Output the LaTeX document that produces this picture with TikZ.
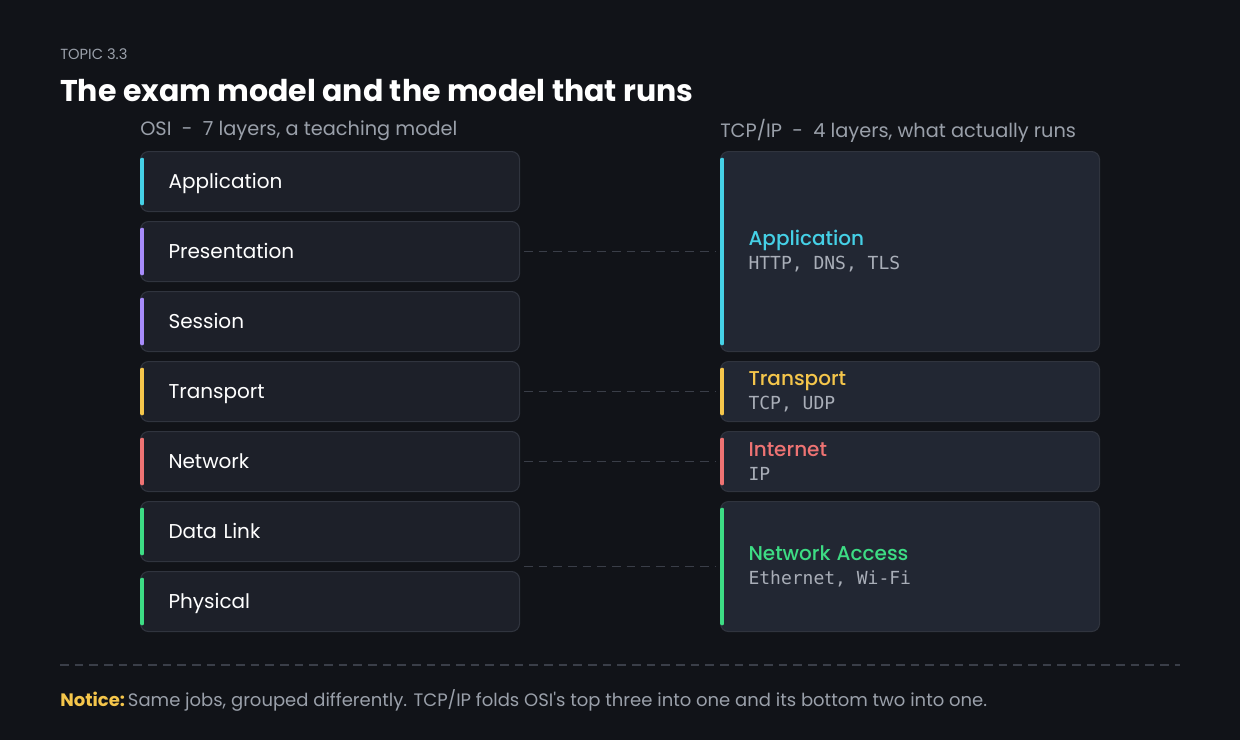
\documentclass[tikz,border=0pt]{standalone}
\usepackage{fontspec}
\setmainfont{Poppins}
\setmonofont{DejaVu Sans Mono}
\newfontfamily\popbold{Poppins}[UprightFont=* Bold]
\newfontfamily\popmed{Poppins}[UprightFont=* Medium]
\newfontfamily\popnote{Poppins}[Ligatures=TeXOff]
\newcommand{\msp}{\hspace{0.602em}}
\usepackage{xcolor}
\definecolor{bg}{HTML}{111318}
\definecolor{osi_fill}{HTML}{1D2029}
\definecolor{tcp_fill}{HTML}{222733}
\definecolor{edge}{HTML}{30343E}
\definecolor{muted}{HTML}{9AA0AA}
\definecolor{mono}{HTML}{A9AEB8}
\definecolor{dashc}{HTML}{3A3E48}
\definecolor{l_cyan}{HTML}{45D0E6}
\definecolor{l_purple}{HTML}{A78BFA}
\definecolor{l_yellow}{HTML}{F5C64B}
\definecolor{l_red}{HTML}{EE7373}
\definecolor{l_green}{HTML}{3DDC84}
\usetikzlibrary{positioning,calc}

\begin{document}
\begin{tikzpicture}[
        x=0.75pt, y=-0.75pt,
        layer/.style={rectangle,rounded corners=6pt,draw=edge,line width=0.8pt,
            anchor=north west,minimum width=284.25pt,minimum height=45pt,
            inner xsep=21pt,text width=242.25pt,align=left},
        osi/.style={layer,fill=osi_fill,text=white,text height=10.5pt,text depth=0pt,
            font=\fontsize{15}{18}\selectfont},
        tcp/.style={layer,fill=tcp_fill,font=\fontsize{13.5}{18}\selectfont},
        bar/.style={line width=3pt,line cap=round},
        link/.style={dashc,line width=0.8pt,dash pattern=on 6.5pt off 4.5pt},
        head/.style={anchor=west,text=muted,inner sep=0pt,font=\fontsize{14.5}{17}\selectfont}
    ]
        \fill[bg] (0,0) rectangle (1240,740);

        \node[anchor=west,inner sep=0pt,text=muted,font=\fontsize{11}{13}\selectfont] (topic) at (60,54) {TOPIC 3.3};
        \node[anchor=west,inner sep=0pt,text=white,font=\popbold\fontsize{22.5}{27}\selectfont] (title) at (60,91) {The exam model and the model that runs};
        \node[head] (osihead) at (140,131) {OSI \ - \ 7 layers, a teaching model};
        \node[head] (tcphead) at (720,131) {TCP/IP \ - \ 4 layers, what actually runs};

        % OSI stack
        \foreach \n/\t/\c [count=\i from 0] in {app/Application/l_cyan, pres/Presentation/l_purple,
                sess/Session/l_purple, trans/Transport/l_yellow, net/Network/l_red,
                dlink/Data Link/l_green, phys/Physical/l_green} {
            \node[osi] (\n) at (140,151+70*\i) {\t};
            \draw[bar,\c] ([xshift=1.75pt,yshift=-6.5pt]\n.north west) -- ([xshift=1.75pt,yshift=6.5pt]\n.south west);
        }

        % TCP/IP stack
        \node[tcp,minimum height=150pt] (tapp) at (720,151)
            {{\popmed\fontsize{15}{18}\selectfont\color{l_cyan}Application}\\{\ttfamily\color{mono}HTTP,\msp DNS,\msp TLS}};
        \node[tcp] (ttrans) at (720,361)
            {{\popmed\fontsize{15}{18}\selectfont\color{l_yellow}Transport}\\{\ttfamily\color{mono}TCP,\msp UDP}};
        \node[tcp] (tnet) at (720,431)
            {{\popmed\fontsize{15}{18}\selectfont\color{l_red}Internet}\\{\ttfamily\color{mono}IP}};
        \node[tcp,minimum height=97.5pt] (tacc) at (720,501)
            {{\popmed\fontsize{15}{18}\selectfont\color{l_green}Network Access}\\{\ttfamily\color{mono}Ethernet,\msp Wi-Fi}};
        \foreach \n/\c in {tapp/l_cyan, ttrans/l_yellow, tnet/l_red, tacc/l_green}
            \draw[bar,\c] ([xshift=1.75pt,yshift=-6.5pt]\n.north west) -- ([xshift=1.75pt,yshift=6.5pt]\n.south west);

        % grouping links
        \draw[link] ([xshift=3pt]pres.east) -- ([xshift=-3pt]pres.east -| tapp.west);
        \draw[link] ([xshift=3pt]trans.east) -- ([xshift=-3pt]ttrans.west);
        \draw[link] ([xshift=3pt]net.east) -- ([xshift=-3pt]tnet.west);
        \coordinate (lowpair) at ($(dlink.south east)!0.5!(phys.north east)$);
        \draw[link] ([xshift=3pt]lowpair) -- ([xshift=-3pt]lowpair -| tacc.west);

        \coordinate (ruleL) at (60,665);
        \coordinate (ruleR) at (1180,665);
        \draw[link] (ruleL) -- (ruleR);
        \node[anchor=west,inner sep=0pt,text=muted,font=\popnote\fontsize{13.5}{16}\selectfont] (notice) at (60,700)
            {{\popbold\color{l_yellow}Notice:}\,Same jobs, grouped differently. TCP/IP folds OSI's top three into one and its bottom two into one.};
    \end{tikzpicture}
\end{document}
